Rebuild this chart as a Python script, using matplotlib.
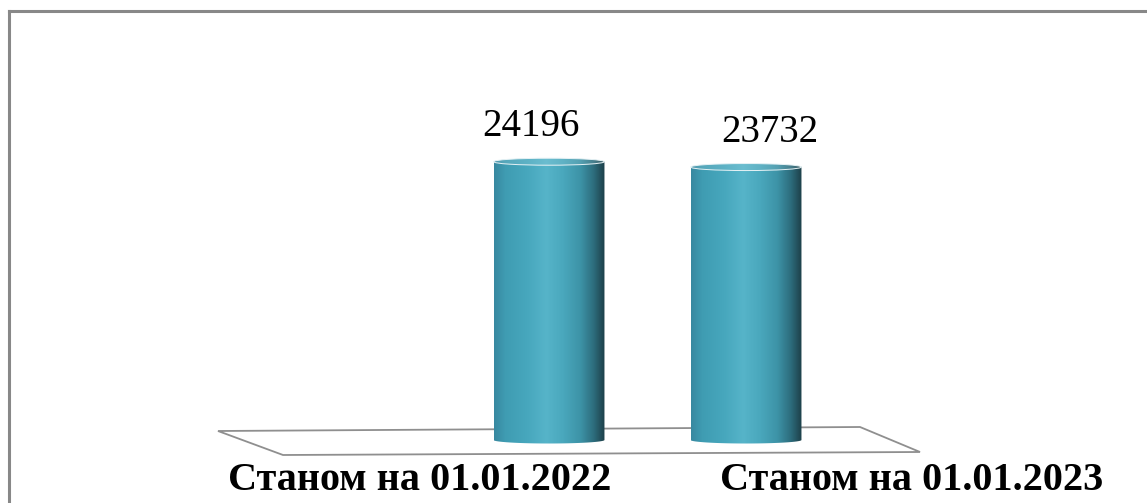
import matplotlib
matplotlib.use("Agg")
import matplotlib.pyplot as plt
import numpy as np
from matplotlib.colors import LinearSegmentedColormap
from matplotlib.patches import Ellipse, PathPatch, Polygon
from matplotlib.path import Path
from matplotlib.lines import Line2D

categories = ['Станом на 01.01.2022', 'Станом на 01.01.2023']
values = [24196, 23732]

W, H = 1147, 503
fig = plt.figure(figsize=(W / 100, H / 100), dpi=100)

# axes placed in pixels: bar base at y=440 px, top frame at y=11 px
base_px, top_px, low_px = 440, 11, 475
ax_left, ax_right = 9, 1147
ax = fig.add_axes([ax_left / W, (H - low_px) / H, (ax_right - ax_left) / W, (low_px - top_px) / H])
ymax = 37300
per_px = ymax / (base_px - top_px)
ymin = -(low_px - base_px) * per_px
cat_px = 197.0
x0 = 549.0
xlim = ((ax_left - x0) / cat_px, (ax_right - x0) / cat_px)

stops = [(0.0, '#3888a0'), (0.1, '#3f9cb2'), (0.3, '#47a7bd'), (0.47, '#56b4c9'),
         (0.62, '#4aa8bd'), (0.78, '#3d93a7'), (0.9, '#2d6d7d'), (1.0, '#1d3f48')]
cyl = LinearSegmentedColormap.from_list('cyl', stops)
top_cmap = LinearSegmentedColormap.from_list(
    'top', [(p, tuple(0.88 * np.array(matplotlib.colors.to_rgb(c)) + 0.12)) for p, c in stops])
grad = np.linspace(0, 1, 256).reshape(1, -1)

bars = ax.bar(range(len(values)), values, width=0.563, color='none', zorder=3)

label_dx = [-0.09, 0.12]
eh = 7 * per_px
for i, rect in enumerate(bars):
    x, w, h = rect.get_x(), rect.get_width(), rect.get_height()
    cx = x + w / 2
    t = np.linspace(np.pi, 2 * np.pi, 60)
    verts = [(x, h)] + list(zip(cx + w / 2 * np.cos(t), eh / 2 * np.sin(t))) + [(x + w, h), (x, h)]
    codes = [Path.MOVETO] + [Path.LINETO] * (len(verts) - 2) + [Path.CLOSEPOLY]
    body = PathPatch(Path(verts, codes), facecolor='none', edgecolor='none', transform=ax.transData)
    ax.add_patch(body)
    im = ax.imshow(grad, extent=[x, x + w, -eh, h], aspect='auto', cmap=cyl, zorder=3)
    im.set_clip_path(body)

    top = Ellipse((cx, h), w, eh, facecolor='none', edgecolor='none', transform=ax.transData)
    ax.add_patch(top)
    im2 = ax.imshow(grad, extent=[x, x + w, h - eh, h + eh], aspect='auto', cmap=top_cmap, zorder=4)
    im2.set_clip_path(top)
    ax.add_patch(Ellipse((cx, h), w, eh, facecolor='none', edgecolor='#e6f2f5', lw=0.7, zorder=5))

    ax.text(cx + label_dx[i], h + 35 * per_px, str(values[i]), ha='center', va='center',
            fontsize=28, family='Liberation Serif', color='black')

ax.set_xlim(*xlim)
ax.set_ylim(ymin, ymax)
ax.axis('off')

# floor
floor_px = [(218, 431), (860, 427), (920, 452), (283, 455)]
floor = Polygon([(px / W, (H - py) / H) for px, py in floor_px], closed=True,
                facecolor='white', edgecolor='#8f8f8f', lw=1.3, transform=fig.transFigure, zorder=-1)
fig.add_artist(floor)

# frame
fig.add_artist(Line2D([9 / W, 9 / W], [0, (H - 11) / H], color='#888888', lw=2.2, transform=fig.transFigure))
fig.add_artist(Line2D([9 / W, 1], [(H - 11) / H] * 2, color='#888888', lw=2.2, transform=fig.transFigure))

label_px = [420, 912]
for lab, px in zip(categories, label_px):
    fig.text(px / W, (H - 481) / H, lab, ha='center', va='center', fontsize=29,
             fontweight='bold', family='Liberation Serif')

fig.savefig('out.png', dpi=100)
